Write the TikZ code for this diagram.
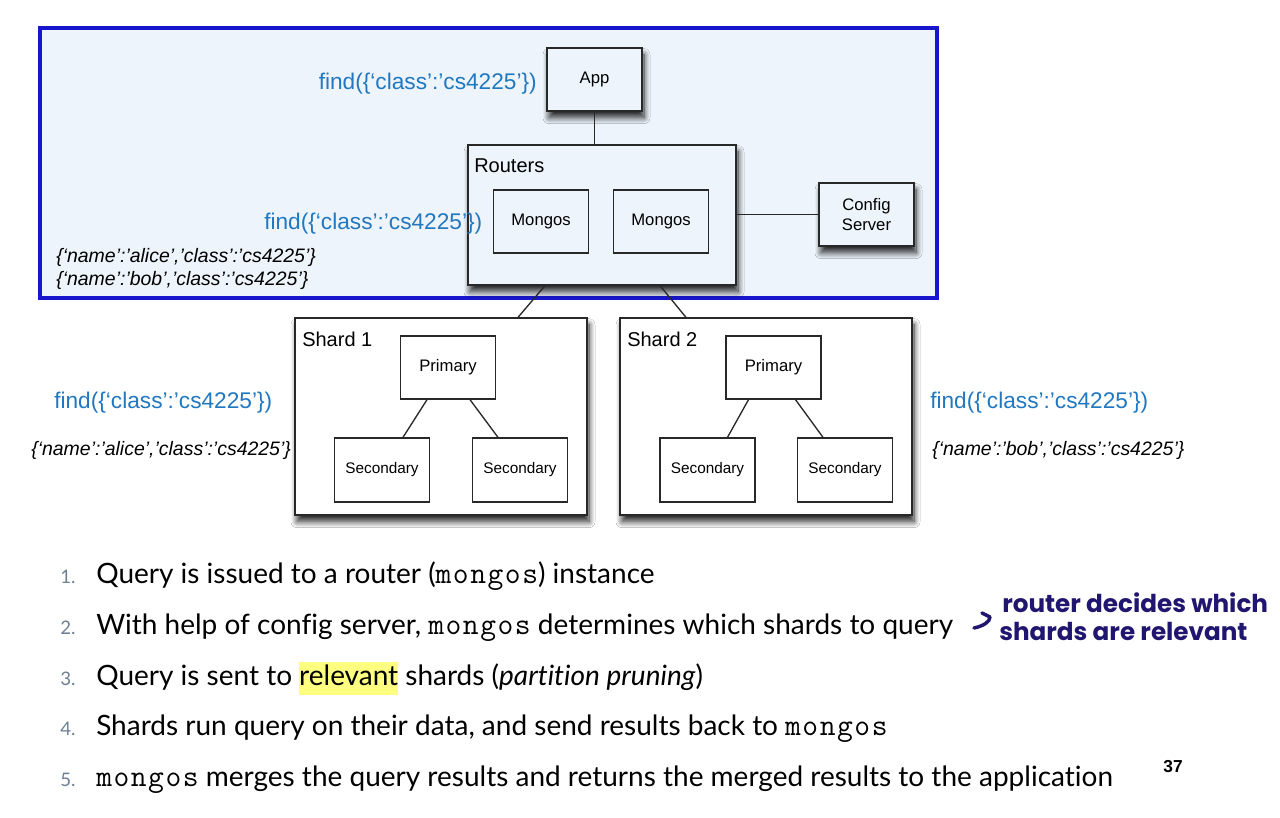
\documentclass[tikz,border=0pt]{standalone}
\usepackage{fontspec}
\setmainfont{Lato}[Ligatures=NoCommon]
\newfontfamily\helv{Liberation Sans}
\newfontfamily\cour{Latin Modern Mono}[LetterSpace=5]
\newfontfamily\hand{Poppins}
\usetikzlibrary{calc,shadows.blur,arrows.meta}

\definecolor{panelblue}{RGB}{237,244,251}
\definecolor{framebl}{RGB}{24,22,205}
\definecolor{querybl}{RGB}{33,120,192}
\definecolor{inkblue}{RGB}{32,22,112}
\definecolor{numgray}{RGB}{110,128,150}
\definecolor{hilite}{RGB}{255,255,128}
\definecolor{edge}{RGB}{40,40,40}

\setlength{\fboxsep}{0pt}
\newcommand{\mono}[1]{{\cour\fontsize{23}{25}\selectfont #1}}

\begin{document}
\begin{tikzpicture}[x=0.75pt,y=-0.75pt,
  box/.style={draw=edge, line width=1pt, inner sep=0pt, align=center,
    font=\helv\fontsize{12.5}{14.5}\selectfont},
  shadowed/.style={blur shadow={shadow xshift=1.5pt,shadow yshift=-5pt,
    shadow blur radius=4.5pt,shadow blur steps=10,shadow opacity=85}},
  small/.style={minimum width=71.25pt, minimum height=47.25pt},
  link/.style={draw=edge, line width=1pt},
  title/.style={font=\helv\fontsize{15}{18}\selectfont, anchor=west, inner sep=0pt},
  query/.style={font=\helv\fontsize{17}{20}\selectfont, text=querybl, inner sep=0pt},
  doc/.style={font=\helv\itshape\fontsize{14.6}{17}\selectfont, inner sep=0pt, anchor=west},
  item/.style={font=\fontsize{21}{25}\selectfont, anchor=base west, inner sep=0pt},
  num/.style={font=\fontsize{14}{16}\selectfont, text=numgray, anchor=base west, inner sep=0pt},
  note/.style={font=\hand\bfseries\fontsize{18.5}{21}\selectfont, text=inkblue, anchor=base west, inner sep=0pt},
]
\useasboundingbox[fill=white] (0,0) rectangle (1280,817);

% query-routing panel
\node[draw=framebl, line width=3pt, fill=panelblue, minimum width=672.75pt,
  minimum height=202.5pt, inner sep=0pt] (panel) at (488.5,163) {};

% application, routers and config server
\node[box, small, fill=panelblue, shadowed] (app) at (594.5,79.5) {App};
\node[box, fill=panelblue, shadowed, minimum width=201pt, minimum height=105pt] (routers) at (602,215) {};
\node[box, small, fill=panelblue] (mongos1) at (541,221.5) {Mongos};
\node[box, small, fill=panelblue] (mongos2) at (661,221.5) {Mongos};
\node[box, small, fill=panelblue, shadowed] (config) at (866.5,214.5) {Config\\Server};
\node[title] (routerslbl) at (474,166) {Routers};

% shards with their replica sets
\node[box, fill=white, shadowed, minimum width=219pt, minimum height=147.75pt] (shard1) at (441,416.5) {};
\node[box, fill=white, shadowed, minimum width=219pt, minimum height=147.75pt] (shard2) at (766,416.5) {};
\node[title] (shard1lbl) at (302,339) {Shard 1};
\node[title] (shard2lbl) at (627,339) {Shard 2};

\node[box, small, fill=white] (prim1) at (448,367.5) {Primary};
\node[box, small, fill=white, minimum height=48pt, font=\helv\fontsize{11.5}{13}\selectfont] (sec1a) at (382,470) {Secondary};
\node[box, small, fill=white, minimum height=48pt, font=\helv\fontsize{11.5}{13}\selectfont] (sec1b) at (520,470) {Secondary};
\node[box, small, fill=white] (prim2) at (773.5,367.5) {Primary};
\node[box, small, fill=white, minimum height=48pt, font=\helv\fontsize{11.5}{13}\selectfont] (sec2a) at (707.5,470) {Secondary};
\node[box, small, fill=white, minimum height=48pt, font=\helv\fontsize{11.5}{13}\selectfont] (sec2b) at (845,470) {Secondary};

% connectors
\draw[link] (app.south) -- (app.south |- routers.north);
\draw[link] (routers.east |- config.west) -- (config.west);
\draw[link] ($(routers.south)+(-57,0)$) -- ($(shard1.north)+(77,0)$);
\draw[link] ($(routers.south)+(58,0)$) -- ($(shard2.north)+(-80,0)$);
\draw[link] ($(prim1.south)+(-21,0)$) -- ($(sec1a.north)+(21,0)$);
\draw[link] ($(prim1.south)+(22,0)$) -- ($(sec1b.north)+(-22,0)$);
\draw[link] ($(prim2.south)+(-25,0)$) -- ($(sec2a.north)+(20,0)$);
\draw[link] ($(prim2.south)+(22,0)$) -- ($(sec2b.north)+(-22,0)$);

% queries and matching documents
\node[query, anchor=east] (q1) at (537,84) {find(\{‘class’:’cs4225’\})};
\node[query, anchor=west] (q2) at (264,224) {find(\{‘class’:’cs4225’\})};
\node[query, anchor=west] (q3) at (54,403) {find(\{‘class’:’cs4225’\})};
\node[query, anchor=west] (q4) at (930,403) {find(\{‘class’:’cs4225’\})};
\node[doc] (d1) at (56,257) {\{‘name’:’alice’,’class’:’cs4225’\}};
\node[doc] (d2) at (56,280) {\{‘name’:’bob’,’class’:’cs4225’\}};
\node[doc] (d3) at (31,450) {\{‘name’:’alice’,’class’:’cs4225’\}};
\node[doc] (d4) at (932,450) {\{‘name’:’bob’,’class’:’cs4225’\}};

% numbered steps
\node[num] (n1) at (60,583) {1.};
\node[num] (n2) at (60,634) {2.};
\node[num] (n3) at (60,685) {3.};
\node[num] (n4) at (60,735) {4.};
\node[num] (n5) at (60,786) {5.};
\node[item] (s1) at (96,583) {Query is issued to a router (\mono{mongos}) instance};
\node[item] (s2) at (96,634) {With help of config server, \mono{mongos} determines which shards to query};
\node[item] (s3) at (96,685) {Query is sent to \colorbox{hilite}{\strut relevant} shards (\textit{partition pruning})};
\node[item] (s4) at (96,735) {Shards run query on their data, and send results back to \mono{mongos}};
\node[item] (s5) at (96,786) {\mono{mongos} merges the query results and returns the merged results to the application};
\node[font=\helv\bfseries\fontsize{13}{15}\selectfont, inner sep=0pt] (page) at (1173,767) {37};

% handwritten remark
\node[note] (h1) at (1002,612) {router decides which};
\node[note] (h2) at (999,640) {shards are relevant};
\coordinate (hookstart) at (974,628);
\coordinate (hookend) at (990,617);
\coordinate (hookback) at (982,613);
\draw[inkblue, line width=2.6pt, line cap=round, line join=round]
  (hookstart) .. controls (983,626) and (990,622) .. (hookend) -- (hookback);
\end{tikzpicture}
\end{document}
